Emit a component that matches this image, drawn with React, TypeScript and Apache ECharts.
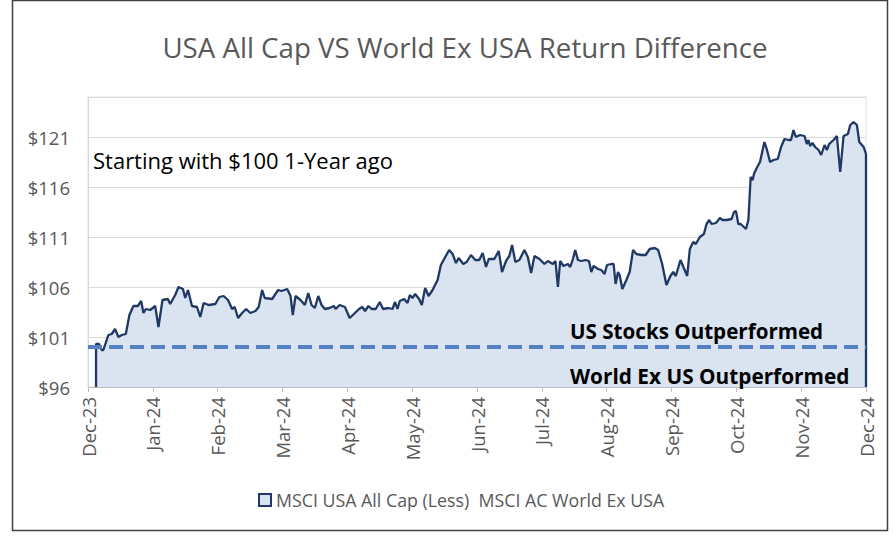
import React, { useEffect, useRef } from "react";
import * as echarts from "echarts";

const monthLabels = [
  "Dec-23", "Jan-24", "Feb-24", "Mar-24", "Apr-24", "May-24", "Jun-24",
  "Jul-24", "Aug-24", "Sep-24", "Oct-24", "Nov-24", "Dec-24",
];

const yTickLabels = ["$96", "$101", "$106", "$111", "$116", "$121"];

const chartTitle = "USA All Cap VS World Ex USA Return Difference";
const seriesName = "MSCI USA All Cap (Less)  MSCI AC World Ex USA";
const thresholdValue = 100;

// position in months since Dec-23
const monthPos = [
  0.124, 0.124, 0.17, 0.212, 0.237, 0.314, 0.366, 0.418, 0.469, 0.521, 0.583, 0.639, 0.7, 0.769, 0.82, 0.855, 0.892, 0.959,
  1.036, 1.087, 1.149, 1.232, 1.268, 1.345, 1.396, 1.464, 1.5, 1.542, 1.604, 1.681, 1.732, 1.783, 1.86, 1.964,
  2.026, 2.092, 2.16, 2.222, 2.262, 2.315, 2.377, 2.439, 2.505, 2.582, 2.633, 2.686, 2.726, 2.841, 2.881, 2.933, 2.984,
  3.073, 3.124, 3.159, 3.201, 3.278, 3.345, 3.397, 3.448, 3.499, 3.552, 3.603, 3.654, 3.727, 3.793, 3.819, 3.881, 3.963,
  4.036, 4.102, 4.18, 4.232, 4.273, 4.325, 4.376, 4.438, 4.5, 4.551, 4.634, 4.696, 4.736, 4.773, 4.809, 4.876, 4.928, 4.964,
  5.005, 5.046, 5.107, 5.149, 5.2, 5.253, 5.315, 5.392, 5.443, 5.51, 5.571, 5.624, 5.675, 5.717, 5.788, 5.84, 5.907, 5.973,
  6.035, 6.088, 6.139, 6.181, 6.267, 6.335, 6.386, 6.448, 6.499, 6.541, 6.592, 6.654, 6.731, 6.784, 6.835, 6.886, 6.963,
  7.041, 7.093, 7.17, 7.21, 7.248, 7.283, 7.334, 7.402, 7.438, 7.48, 7.515, 7.557, 7.608, 7.674, 7.727, 7.763, 7.798, 7.866, 7.917, 7.968,
  8.005, 8.072, 8.107, 8.138, 8.175, 8.2, 8.242, 8.304, 8.355, 8.407, 8.458, 8.535, 8.602, 8.664, 8.741, 8.794, 8.856, 8.922, 8.984,
  9.026, 9.066, 9.139, 9.19, 9.242, 9.283, 9.335, 9.375, 9.437, 9.499, 9.541, 9.582, 9.618, 9.685, 9.722, 9.746, 9.788, 9.85, 9.927, 9.963, 9.994,
  10.031, 10.067, 10.149, 10.186, 10.221, 10.252, 10.272, 10.314, 10.365, 10.433, 10.469, 10.52, 10.572, 10.639, 10.69, 10.742, 10.804, 10.844, 10.881, 10.917, 10.983,
  11.051, 11.087, 11.113, 11.138, 11.175, 11.215, 11.268, 11.308, 11.361, 11.396, 11.432, 11.5, 11.551, 11.602, 11.654, 11.721, 11.757, 11.809, 11.86, 11.896, 11.964,
  12.0, 12.0,
];

const values = [
  96, 100.3, 100.3, 99.7, 99.7, 101.2, 101.3, 101.8, 101.0, 101.2, 101.3, 103.2, 104.1, 104.1, 104.6, 103.4, 103.8, 103.7,
  104.1, 102.0, 104.7, 104.8, 104.3, 105.2, 106.0, 105.8, 104.9, 105.7, 104.1, 104.0, 103.0, 104.4, 104.2, 104.3,
  105.0, 105.1, 104.7, 103.8, 104.0, 102.9, 103.4, 103.8, 103.4, 103.6, 104.0, 105.7, 104.9, 104.8, 105.2, 105.7, 105.6,
  105.8, 105.1, 103.2, 105.1, 104.7, 104.2, 105.4, 104.2, 103.9, 105.1, 104.2, 103.8, 103.9, 104.1, 103.8, 104.2, 104.0,
  102.9, 103.3, 103.8, 104.0, 103.6, 104.1, 103.8, 103.8, 104.5, 103.8, 103.9, 103.8, 104.5, 103.8, 104.6, 104.8, 104.4, 105.2,
  104.9, 105.3, 104.8, 104.2, 105.9, 105.1, 105.7, 106.7, 108.2, 109.0, 109.7, 109.3, 108.4, 108.9, 108.3, 108.5, 109.2, 108.7,
  108.7, 109.4, 108.0, 108.8, 108.8, 109.6, 107.5, 108.6, 109.1, 110.2, 108.5, 108.7, 109.7, 109.0, 107.4, 109.1, 108.8,
  108.3, 108.6, 108.3, 108.6, 106.0, 108.6, 108.1, 108.3, 108.0, 108.8, 109.7, 108.7, 108.6, 108.7, 108.6, 107.5, 108.1, 107.8, 107.7, 107.3,
  108.2, 108.3, 108.3, 106.3, 107.5, 107.2, 105.8, 106.7, 107.5, 109.7, 109.3, 109.2, 109.2, 109.8, 109.9, 109.7, 108.3, 106.2, 107.1,
  107.5, 107.1, 108.7, 107.9, 107.1, 109.8, 110.5, 110.3, 111.0, 111.3, 112.3, 112.7, 112.3, 112.4, 112.7, 112.9, 112.7, 112.7, 112.8, 113.5, 113.6,
  112.3, 112.3, 111.8, 112.7, 117.0, 116.7, 117.3, 117.9, 118.5, 120.5, 119.8, 118.5, 118.7, 118.8, 120.0, 120.8, 120.7, 120.7, 121.7, 121.0, 121.2,
  121.1, 120.3, 120.7, 120.1, 120.4, 120.0, 119.7, 119.2, 120.2, 119.7, 120.3, 120.7, 121.1, 117.5, 121.1, 121.3, 122.2, 122.5, 122.2, 120.5, 120.0,
  119.3, 96,
];

const FONT = "'Open Sans', Lato, 'Liberation Sans', sans-serif";

export default function App() {
  const ref = useRef<HTMLDivElement>(null);

  useEffect(() => {
    if (!ref.current) return;
    const chart = echarts.init(ref.current, null, { renderer: "svg" });
    const points = monthPos.map((m, i) => [m, values[i]]);

    chart.setOption({
      animation: false,
      backgroundColor: "#ffffff",
      legend: {
        data: [seriesName],
        top: 486,
        left: 253,
        icon: "rect",
        itemWidth: 12,
        itemHeight: 12,
        itemGap: 5,
        itemStyle: { color: "#dae3f0", borderColor: "#1f3864", borderWidth: 2 },
        textStyle: { fontFamily: FONT, fontSize: 17.8, color: "#595959" },
      },
      grid: {
        left: 88,
        right: 27,
        top: 97,
        bottom: 149,
        show: true,
        borderColor: "#e3e3e3",
        borderWidth: 1,
      },
      xAxis: {
        type: "value",
        min: 0,
        max: 12,
        interval: 1,
        axisLine: { show: true, lineStyle: { color: "#bfbfbf", width: 1 } },
        axisTick: { show: true, length: 5, lineStyle: { color: "#bfbfbf" } },
        splitLine: { show: false },
        axisLabel: {
          rotate: 90,
          margin: 10,
          fontFamily: FONT,
          fontSize: 18.5,
          color: "#595959",
          formatter: (v: number) => monthLabels[Math.round(v)] ?? "",
        },
      },
      yAxis: {
        type: "value",
        min: 96,
        max: 125,
        interval: 5,
        axisLine: { show: true, lineStyle: { color: "#d0d8e4", width: 1 } },
        axisTick: { show: false },
        splitLine: { show: true, lineStyle: { color: "#d9d9d9", width: 1 } },
        axisLabel: {
          margin: 18,
          fontFamily: FONT,
          fontSize: 18.5,
          color: "#595959",
          showMaxLabel: false,
          formatter: (v: number) => {
            const idx = Math.round((v - 96) / 5);
            return Math.abs(v - (96 + idx * 5)) < 1e-6 ? yTickLabels[idx] ?? "" : "";
          },
        },
      },
      series: [
        {
          name: seriesName,
          type: "line",
          data: points,
          showSymbol: false,
          symbol: "none",
          lineStyle: { color: "#1f3864", width: 2.3 },
          itemStyle: { color: "#dae3f0", borderColor: "#1f3864" },
          areaStyle: { color: "#dae3f0", opacity: 1 },
          z: 2,
        },
        {
          name: "threshold",
          type: "line",
          data: [
            [0, thresholdValue],
            [12, thresholdValue],
          ],
          showSymbol: false,
          symbol: "none",
          lineStyle: { color: "#5381c1", width: 4, type: [14, 7] },
          z: 3,
        },
      ],
      graphic: [
        {
          type: "rect",
          shape: { x: 12.5, y: 0.5, width: 875, height: 530 },
          style: { fill: "none", stroke: "#404040", lineWidth: 1.5 },
          silent: true,
        },
        {
          type: "text",
          x: 465,
          y: 47,
          style: {
            text: chartTitle,
            fontFamily: FONT,
            fontSize: 27.7,
            fill: "#595959",
            align: "center",
            verticalAlign: "middle",
          },
          z: 10,
        },
        {
          type: "text",
          x: 93,
          y: 160,
          style: {
            text: "Starting with $100 1-Year ago",
            fontFamily: FONT,
            fontSize: 22,
            fill: "#000000",
            verticalAlign: "middle",
          },
          z: 10,
        },
        {
          type: "text",
          x: 570,
          y: 331,
          style: {
            text: "US Stocks Outperformed",
            fontFamily: FONT,
            fontSize: 20.6,
            fontWeight: "bold",
            fill: "#000000",
            verticalAlign: "middle",
          },
          z: 10,
        },
        {
          type: "text",
          x: 570,
          y: 376,
          style: {
            text: "World Ex US Outperformed",
            fontFamily: FONT,
            fontSize: 20.8,
            fontWeight: "bold",
            fill: "#000000",
            verticalAlign: "middle",
          },
          z: 10,
        },
      ],
    });

    return () => chart.dispose();
  }, []);

  return (
    <div
      ref={ref}
      style={{ position: "fixed", left: 0, top: 0, width: 893, height: 536 }}
    />
  );
}
